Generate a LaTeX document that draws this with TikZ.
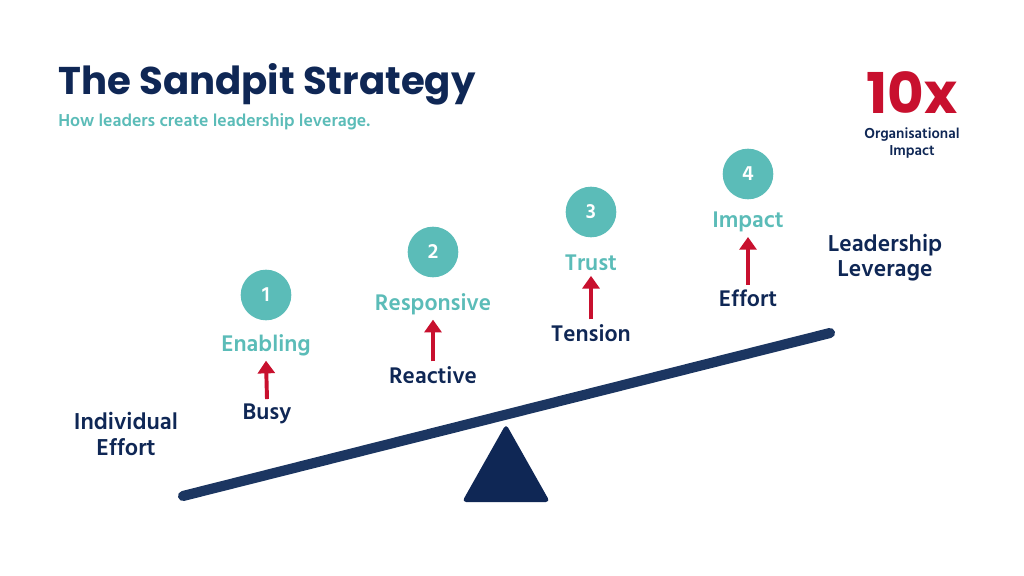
\documentclass[tikz,border=0pt]{standalone}
\usepackage{fontspec}
\setmainfont{Hind Siliguri}
\newfontfamily\titlefont{Poppins}
\usetikzlibrary{calc}
\usetikzlibrary{arrows.meta}
\definecolor{navy}{HTML}{0F2755}
\definecolor{beamc}{HTML}{1C3661}
\definecolor{teal}{HTML}{5BBCB8}
\definecolor{redc}{HTML}{C8102E}
\tikzstyle{num}=[shape=circle, minimum size=36, inner sep=0, fill=teal, text=white, font=\fontsize{15}{15}\selectfont\bfseries]
\tikzstyle{stage}=[text=teal, font=\fontsize{16.5}{16.5}\selectfont\bfseries]
\tikzstyle{lbl}=[text=navy, font=\fontsize{16.5}{16.5}\selectfont\bfseries]
\tikzstyle{side}=[text=navy, align=center, font=\fontsize{16.8}{18}\selectfont\bfseries]
\tikzstyle{up}=[draw=redc, line width=2.8pt, -{Triangle[length=9pt,width=12pt]}]

\begin{document}
\begin{tikzpicture}[x=0.025cm, y=-0.025cm]
\useasboundingbox[fill=white] (0,0) rectangle (1024,576);
% title
\node at (58,84)[anchor=west, inner sep=0, text=navy, font=\titlefont\fontsize{27.5}{27.5}\selectfont\bfseries](title){The Sandpit Strategy};
\node at (58,122)[anchor=west, inner sep=0, text=teal, font=\fontsize{12.6}{13}\selectfont\bfseries](sub){How leaders create leadership leverage.};
\node at (912,93)[inner sep=0, text=redc, font=\titlefont\fontsize{40}{40}\selectfont\bfseries](ten){10x};
\node at (912,143)[inner sep=0, text=navy, align=center, font=\fontsize{10.5}{12}\selectfont\bfseries](org){Organisational\\Impact};
% seesaw
\coordinate (l) at (183,496);
\coordinate (r) at (830,333);
\draw[beamc, line width=7.2pt, line cap=round] (l)--(r);
\fill[navy, rounded corners=3pt] (506,424)--(550,502)--(462,502)--cycle;
\node at (126,434)[side](ind){Individual\\Effort};
\node at (885,258)[side](lev){Leadership\\Leverage};
% steps
\node at (266,295)[num](c1){1};
\node at (433,252)[num](c2){2};
\node at (591,212)[num](c3){3};
\node at (748,174)[num](c4){4};
\node at (266,345)[stage](s1){Enabling};
\node at (433,304)[stage](s2){Responsive};
\node at (591,263)[stage](s3){Trust};
\node at (748,222)[stage](s4){Impact};
\node at (267,414)[lbl](b1){Busy};
\node at (433,375)[lbl](b2){Reactive};
\node at (591,333)[lbl](b3){Tension};
\node at (748,298)[lbl](b4){Effort};
\draw[up] (b1.north)--(s1.south);
\draw[up] (b2.north)--(s2.south);
\draw[up] (b3.north)--(s3.south);
\draw[up] (b4.north)--(s4.south);
\end{tikzpicture}
\end{document}
